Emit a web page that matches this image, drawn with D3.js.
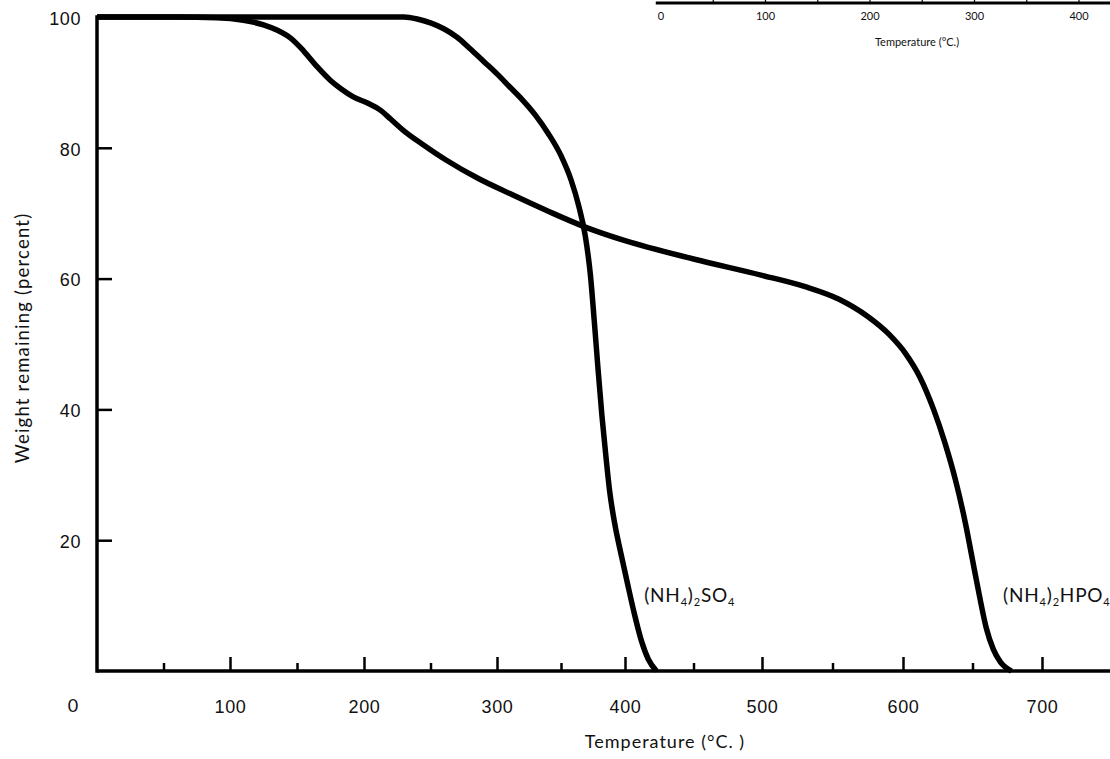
<!DOCTYPE html>
<html>
<head>
<meta charset="utf-8">
<script src="https://cdn.jsdelivr.net/npm/d3@7"></script>
<style>
  body { margin: 0; background: #fff; }
  svg { display: block; font-family: Lato, "Noto Sans", sans-serif; }
  .axis text { font-size: 18px; fill: #111; letter-spacing: 0.6px; }
  .axis line { stroke: #000; stroke-width: 2.5; }
</style>
</head>
<body>
<div id="vis-container"></div>
<script>
// --- Data ---
const sulfateTemp   = [0, 100, 200, 230, 240, 250, 260, 270, 280, 290, 300, 310, 320, 330, 340, 350, 358, 364, 369, 373, 376, 379, 382, 385, 388, 392, 397, 402, 407, 412, 417, 423];
const sulfateWeight = [100, 100, 100, 100, 99.7, 99.1, 98.2, 96.9, 95.1, 93.2, 91.3, 89.3, 87.3, 85, 82.2, 78.8, 75, 71, 66.5, 60.5, 53.5, 46, 39, 33, 27.5, 22.5, 17.8, 13.2, 8.6, 4.6, 1.8, 0];

const phosphateTemp   = [0, 60, 90, 110, 125, 135, 145, 155, 165, 175, 183, 192, 203, 212, 220, 230, 245, 262, 286, 310, 340, 370, 400, 450, 500, 530, 555, 575, 590, 602, 612, 622, 630, 638, 645, 650, 655, 660, 665, 670, 678];
const phosphateWeight = [100, 100, 99.9, 99.5, 98.8, 98, 96.8, 94.8, 92.4, 90.3, 89, 87.8, 86.8, 85.8, 84.4, 82.6, 80.4, 78.1, 75.3, 73, 70.3, 67.8, 65.8, 63, 60.5, 58.8, 56.8, 54.2, 51.5, 48.5, 45, 40, 35, 29, 22.5, 17, 11.5, 6.5, 3.3, 1.4, 0];

const xMajorTicks = [100, 200, 300, 400, 500, 600, 700];
const xMinorTicks = [50, 150, 250, 350, 450, 550, 650];
const yTicks = [20, 40, 60, 80, 100];

// clipped axis of the neighbouring figure, top right
const insetTicks = [0, 100, 200, 300, 400];
const insetMinorTicks = [50, 100, 150, 200, 250, 300, 350, 400];

const sulfateLabel = [["(NH", 0], ["4", 1], [")", 0], ["2", 1], ["SO", 0], ["4", 1]];
const phosphateLabel = [["(NH", 0], ["4", 1], [")", 0], ["2", 1], ["HPO", 0], ["4", 1]];

// --- Setup ---
const W = 1110, H = 759;

const svg = d3.select("#vis-container")
    .append("svg")
        .attr("width", W)
        .attr("height", H);

// the printed axis is not quite linear (scan distortion), so use a piecewise scale
const x = d3.scaleLinear()
    .domain([0, 100, 200, 300, 400, 500, 600, 700])
    .range([97, 230, 364, 497, 625, 762, 903, 1042]);

const y = d3.scaleLinear()
    .domain([0, 100])
    .range([671, 17]);

// --- Axes ---
const xAxis = svg.append("g")
    .attr("class", "axis")
    .attr("transform", `translate(0, ${y(0)})`)
    .call(d3.axisBottom(x).tickValues(xMajorTicks).tickSize(-14).tickPadding(29).tickFormat(d3.format("d")));
xAxis.select(".domain").remove();

const xMinor = svg.append("g")
    .attr("class", "axis")
    .attr("transform", `translate(0, ${y(0)})`)
    .call(d3.axisBottom(x).tickValues(xMinorTicks).tickSize(-8).tickFormat(""));
xMinor.select(".domain").remove();

const yAxis = svg.append("g")
    .attr("class", "axis")
    .attr("transform", `translate(${x(0)}, 0)`)
    .call(d3.axisLeft(y).tickValues(yTicks).tickSize(-15).tickPadding(16).tickFormat(d3.format("d")));
yAxis.select(".domain").remove();
yAxis.selectAll("text").attr("dy", "0.4em");

// shared origin label
svg.append("text")
    .attr("x", x(0) - 24)
    .attr("y", y(0) + 41)
    .attr("text-anchor", "middle")
    .style("font-size", "18px")
    .style("fill", "#111")
    .text("0");

// axis lines
svg.append("line")
    .attr("x1", x(0)).attr("x2", W)
    .attr("y1", y(0)).attr("y2", y(0))
    .attr("stroke", "#000").attr("stroke-width", 3.5);

svg.append("line")
    .attr("x1", x(0)).attr("x2", x(0))
    .attr("y1", y(0)).attr("y2", y(100))
    .attr("stroke", "#000").attr("stroke-width", 3.5)
    .attr("stroke-linecap", "square");

// axis titles
svg.append("text")
    .attr("x", 665)
    .attr("y", 748)
    .attr("text-anchor", "middle")
    .style("font-size", "18px")
    .style("letter-spacing", "1px")
    .style("fill", "#111")
    .text("Temperature (°C. )");

svg.append("text")
    .attr("transform", "translate(22, 338) rotate(-90)")
    .attr("text-anchor", "middle")
    .attr("dominant-baseline", "central")
    .style("font-size", "18.5px")
    .style("letter-spacing", "1.2px")
    .style("fill", "#111")
    .text("Weight remaining (percent)");

// --- Curves ---
const line = d3.line()
    .x(d => x(d[0]))
    .y(d => y(d[1]))
    .curve(d3.curveMonotoneX);

const series = [
    d3.zip(sulfateTemp, sulfateWeight),
    d3.zip(phosphateTemp, phosphateWeight)
];

svg.append("g")
    .selectAll("path")
    .data(series)
    .enter()
    .append("path")
        .attr("d", line)
        .attr("fill", "none")
        .attr("stroke", "#000")
        .attr("stroke-width", 5.5)
        .attr("stroke-linejoin", "round");

// --- Curve labels ---
function chemLabel(parts, px, py) {
    const t = svg.append("text")
        .attr("x", px)
        .attr("y", py)
        .style("font-size", "19px")
        .style("letter-spacing", "0.8px")
        .style("fill", "#111");
    let shifted = false;
    parts.forEach(([s, sub]) => {
        const span = t.append("tspan").text(s);
        if (sub && !shifted) { span.attr("dy", 4).style("font-size", "11px"); shifted = true; }
        else if (sub) { span.style("font-size", "11px"); }
        else if (shifted) { span.attr("dy", -4); shifted = false; }
    });
}
chemLabel(sulfateLabel, x(414), y(10.5));
chemLabel(phosphateLabel, x(672), y(10.5));

// --- Inset (edge of neighbouring figure) ---
const xi = d3.scaleLinear().domain([0, 400]).range([661, 1079]);

svg.append("line")
    .attr("x1", xi(-5)).attr("x2", W)
    .attr("y1", 3).attr("y2", 3)
    .attr("stroke", "#000").attr("stroke-width", 3);

svg.append("g")
    .selectAll("line")
    .data(insetMinorTicks)
    .enter()
    .append("line")
        .attr("x1", d => xi(d)).attr("x2", d => xi(d))
        .attr("y1", 0).attr("y2", 4)
        .attr("stroke", "#000").attr("stroke-width", 1.2);

svg.append("g")
    .selectAll("text")
    .data(insetTicks)
    .enter()
    .append("text")
        .attr("x", d => xi(d))
        .attr("y", 20)
        .attr("text-anchor", "middle")
        .style("font-size", "11px")
        .style("fill", "#111")
        .text(d => d);

svg.append("text")
    .attr("x", 917)
    .attr("y", 46)
    .attr("text-anchor", "middle")
    .style("font-size", "11px")
    .style("fill", "#111")
    .text("Temperature (°C.)");
</script>
</body>
</html>
